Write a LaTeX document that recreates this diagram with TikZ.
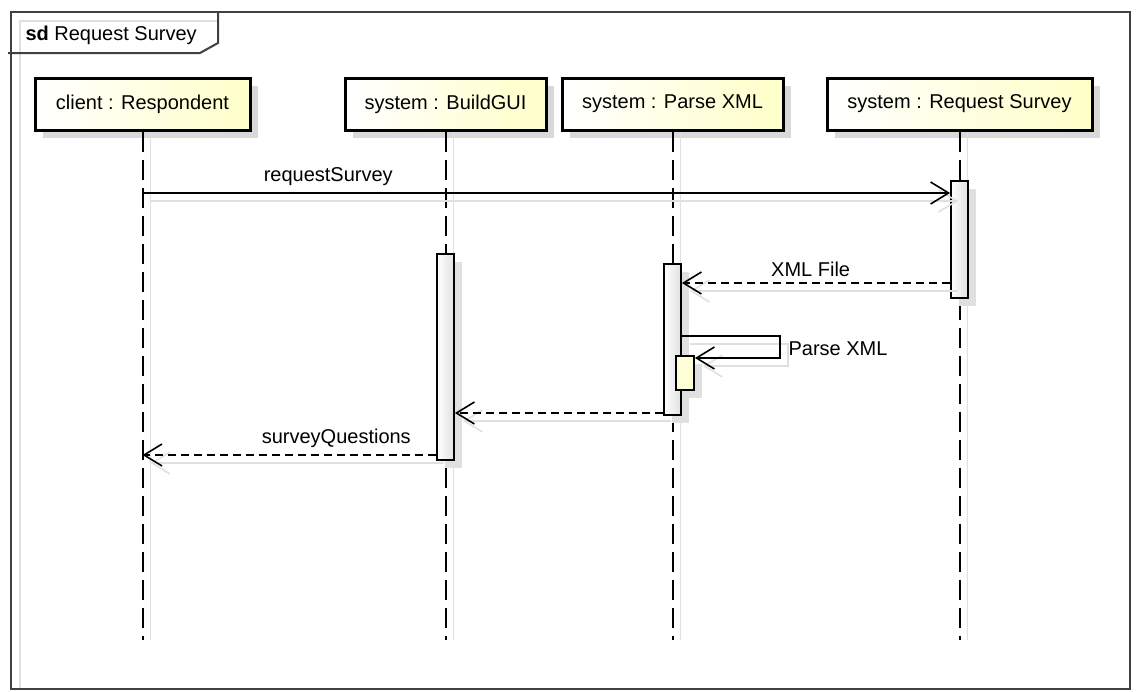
\documentclass[tikz,border=0pt]{standalone}
\usepackage{fontspec}
\setmainfont{Liberation Sans}
\usetikzlibrary{arrows.meta,shadows,positioning}
\definecolor{boxyellow}{RGB}{255,255,200}
\definecolor{nestyellow}{RGB}{255,255,215}

\tikzset{
  txt/.style={font=\fontsize{20}{24}\selectfont},
  lifebox/.style={draw=black, line width=3pt, txt, minimum height=52pt,
    left color=white, right color=boxyellow,
    drop shadow={shadow xshift=8pt, shadow yshift=-8pt, fill=black!15, opacity=1}},
  lifeline/.style={line width=2pt, dash pattern=on 20pt off 8pt,
    preaction={draw=black!12, solid, line width=1.2pt, transform canvas={xshift=8pt}}},
  act/.style={draw=black, line width=1.8pt, minimum width=17pt, inner sep=0pt,
    left color=white, right color=black!12,
    drop shadow={shadow xshift=8pt, shadow yshift=-8pt, fill=black!12, opacity=1}},
  nested/.style={act, fill=nestyellow, left color=nestyellow, right color=nestyellow, minimum width=18pt},
  call/.style={line width=1.6pt, -{Straight Barb[length=18pt,width=22pt,line width=1.6pt]},
    preaction={draw=black!12, line width=1.2pt, transform canvas={shift={(8pt,-8pt)}}}},
  reply/.style={call, dash pattern=on 8pt off 5pt},
  frame/.style={draw=black!75, line width=2pt}
}

\begin{document}
\begin{tikzpicture}[x=1pt, y=-1pt]
  \useasboundingbox (0,0) rectangle (1138,691);
  % frame
  \draw[black!12, line width=1.5pt] (20,689) -- (20,21) -- (218,21);
  \draw[frame] (11,12) rectangle (1130,689);
  \draw[frame] (8,53) -- (200,53) -- (218,43) -- (218,12);
  \node[txt, anchor=west] (title) at (22,35) {\textbf{sd} Request Survey};

  % objects
  \node[lifebox, minimum width=215pt] (resp)  at (142.5,104) {client : Respondent};
  \node[lifebox, minimum width=201pt] (gui)   at (445.5,104) {system : BuildGUI};
  \node[lifebox, minimum width=221pt] (parse) at (672.5,104) {system : Parse XML};
  \node[lifebox, minimum width=265pt] (req)   at (959.5,104) {system : Request Survey};

  % lifelines
  \foreach \obj in {resp,gui,parse,req}
    \draw[lifeline] (\obj.south) -- (\obj.south |- 0,640);

  % activations
  \node[act, minimum height=117pt] (actReq)   at (req.south |- 0,239.5) {};
  \node[act, minimum height=206pt] (actGui)   at (gui.south |- 0,357) {};
  \node[act, minimum height=151pt] (actParse) at (parse.south |- 0,339.5) {};
  \node[nested, minimum height=34pt] (actNest) at (685,373) {};

  % messages
  \draw[call] (resp.south |- 0,193) -- (actReq.west |- 0,193)
    node[txt, pos=0.23, above=3pt] (m1) {requestSurvey};
  \draw[reply] (actReq.west |- 0,283) -- (actParse.east |- 0,283)
    node[txt, pos=0.52, above=2pt] (m2) {XML File};
  \draw[call] (actParse.east |- 0,336) -| (780,358) -- (actNest.east |- 0,358);
  \node[txt, anchor=west] (m3) at (785,349) {Parse XML};
  \draw[reply] (actParse.west |- 0,413) -- (actGui.east |- 0,413);
  \draw[reply] (actGui.west |- 0,455) -- (resp.south |- 0,455)
    node[txt, pos=0.34, above=3pt] (m4) {surveyQuestions};
\end{tikzpicture}
\end{document}
